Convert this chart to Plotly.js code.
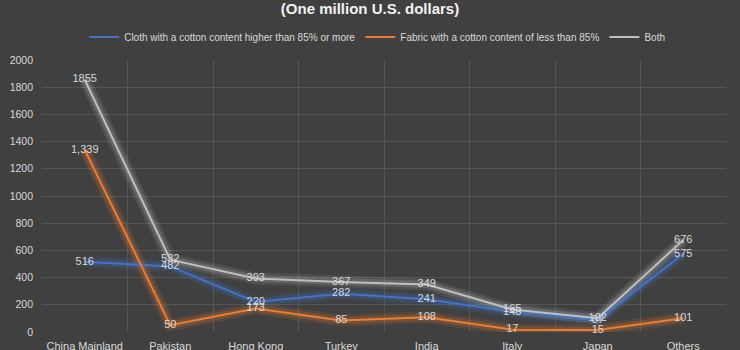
<!DOCTYPE html>
<html><head><meta charset="utf-8">
<script src="https://cdn.plot.ly/plotly-3.0.1.min.js"></script>
<style>html,body{margin:0;padding:0;background:#404040;}#chart{width:740px;height:350px;}</style>
</head><body><div id="chart"></div>
<script>
const categories = ["China Mainland","Pakistan","Hong Kong","Turkey","India","Italy","Japan","Others"];
const cottonHigh = [516,482,220,282,241,148,87,575];
const cottonLow = [1339,50,173,85,108,17,15,101];
const both = [1855,532,393,367,349,165,102,676];
const seriesNames = ["Cloth with a cotton content higher than 85% or more","Fabric with a cotton content of less than 85%","Both"];
const yTicks = [0,200,400,600,800,1000,1200,1400,1600,1800,2000];

const colors = ["#4472C4","#ED7D31","#BFBFBF"];
const series = [cottonHigh, cottonLow, both];
const fmt = v => v.toLocaleString('en-US');
const labelText = [cottonHigh.map(String), cottonLow.map(fmt), both.map(String)];

const traces = [];
// glow
series.forEach((s,i)=>{
  [12,7].forEach((w,k)=>{
    traces.push({x:categories,y:s,type:'scatter',mode:'lines',
      line:{color:colors[i],width:w},opacity:k===0?0.12:0.2,
      hoverinfo:'skip',showlegend:false});
  });
});
series.forEach((s,i)=>{
  traces.push({x:categories,y:s,type:'scatter',mode:'lines+text',name:seriesNames[i],
    line:{color:colors[i],width:2},text:labelText[i],textposition:'middle center',
    textfont:{color:'#D9D9D9',size:11,family:'Liberation Sans, Arial, sans-serif'},
    cliponaxis:false});
});

const layout = {
  width:740,height:350,
  paper_bgcolor:'#404040',plot_bgcolor:'#404040',
  margin:{l:42,r:14,t:60,b:18},
  font:{family:'Liberation Sans, Arial, sans-serif',color:'#D9D9D9',size:11},
  title:{text:'<b>(One million U.S. dollars)</b>',x:0.5,xanchor:'center',y:0.975,yanchor:'middle',
    font:{size:15,color:'#F2F2F2',family:'Liberation Sans, Arial, sans-serif'}},
  showlegend:true,
  legend:{orientation:'h',x:0.49,xanchor:'center',y:1.085,yanchor:'middle',
    font:{size:10,color:'#D9D9D9'},bgcolor:'rgba(0,0,0,0)',itemwidth:30,traceorder:'normal'},
  xaxis:{type:'category',range:[-0.5,7.5],tickson:'boundaries',showgrid:true,gridcolor:'#555555',
    ticks:'',showline:false,zeroline:false,tickfont:{size:11,color:'#D9D9D9'},fixedrange:true,
    ticklabelstandoff:6},
  yaxis:{range:[0,2000],tickvals:yTicks,ticktext:yTicks.map(String),showgrid:true,gridcolor:'#555555',
    zeroline:false,showline:false,ticks:'',tickfont:{size:10.5,color:'#D9D9D9'},fixedrange:true,
    ticklabelstandoff:8},
};
Plotly.newPlot('chart',traces,layout,{displayModeBar:false,staticPlot:true});
</script></body></html>
